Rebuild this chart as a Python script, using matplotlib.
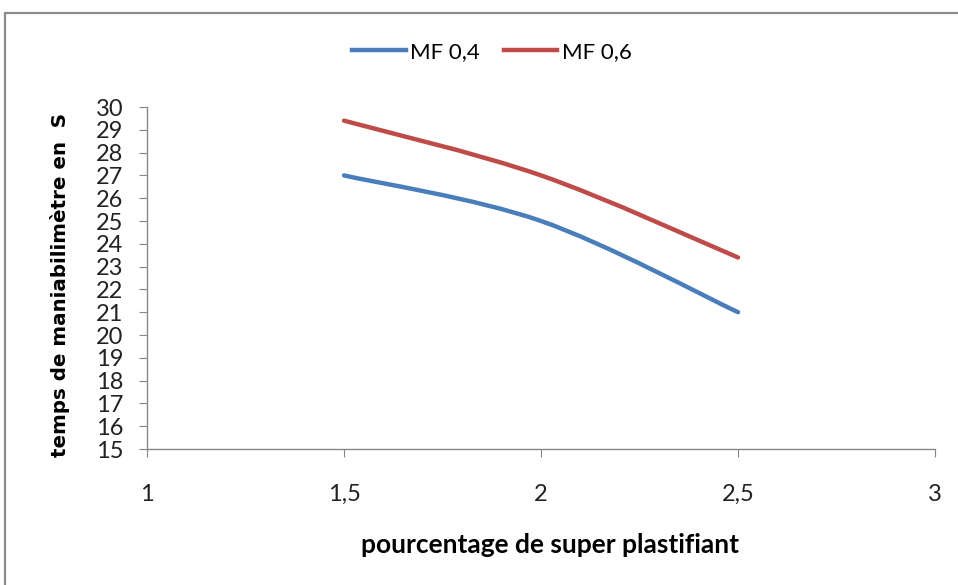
import matplotlib
matplotlib.use("Agg")
import matplotlib.pyplot as plt
from matplotlib.path import Path
from matplotlib.patches import PathPatch, Rectangle
from matplotlib.lines import Line2D

plt.rcParams['font.family'] = ['Lato', 'DejaVu Sans']

x_vals = [1.5, 2.0, 2.5]
mf04 = [27.0, 25.0, 21.0]
mf06 = [29.4, 27.0, 23.4]
series_names = ["MF 0,4", "MF 0,6"]
colors = ["#4A7EBB", "#BE4B48"]
xticks = [1, 1.5, 2, 2.5, 3]
xtick_labels = ["1", "1,5", "2", "2,5", "3"]
yticks = list(range(15, 31))

W, H = 958, 585
AX_L, AX_R, AX_T, AX_B = 147, 935, 107, 449
fig = plt.figure(figsize=(W / 100, H / 100), dpi=100)

# outer border
fig.patches.append(Rectangle((5 / W, -0.01), 1.0, 1 - 13 / H + 0.01, transform=fig.transFigure,
                             fill=False, edgecolor="#8c8c8c", linewidth=1.6))

ax = fig.add_axes([AX_L / W, 1 - AX_B / H, (AX_R - AX_L) / W, (AX_B - AX_T) / H])
ax.set_xlim(1, 3)
ax.set_ylim(15, 30)


def smooth_path(xs, ys):
    pts = list(zip(xs, ys))
    n = len(pts)
    verts = [pts[0]]
    codes = [Path.MOVETO]
    for i in range(n - 1):
        p0 = pts[i - 1] if i > 0 else pts[i]
        p1 = pts[i]
        p2 = pts[i + 1]
        p3 = pts[i + 2] if i + 2 < n else pts[i + 1]
        c1 = (p1[0] + (p2[0] - p0[0]) / 6, p1[1] + (p2[1] - p0[1]) / 6)
        c2 = (p2[0] - (p3[0] - p1[0]) / 6, p2[1] - (p3[1] - p1[1]) / 6)
        verts += [c1, c2, p2]
        codes += [Path.CURVE4] * 3
    return Path(verts, codes)


for ys, c in zip([mf04, mf06], colors):
    ax.add_patch(PathPatch(smooth_path(x_vals, ys), fill=False, edgecolor=c,
                           linewidth=3.2, capstyle='round'))

ax.set_xticks(xticks)
ax.set_xticklabels(xtick_labels)
ax.set_yticks(yticks)
for s in ["top", "right"]:
    ax.spines[s].set_visible(False)
for s in ["left", "bottom"]:
    ax.spines[s].set_color("#868686")
    ax.spines[s].set_linewidth(1.0)
ax.tick_params(axis='y', direction='out', length=6, color="#868686", labelsize=17, pad=11,
               labelcolor="#222222")
ax.tick_params(axis='x', direction='out', length=6, color="#868686", labelsize=17, pad=19,
               labelcolor="#222222")

ax.set_ylabel("temps de maniabilimètre en  S", fontsize=14.3, fontweight='bold',
              family=['DejaVu Sans'])
ax.yaxis.set_label_coords((60 - AX_L) / (AX_R - AX_L), (AX_B - 285) / (AX_B - AX_T))
ax.yaxis.label.set_va('center')

ax.set_xlabel("pourcentage de super plastifiant", fontsize=19, fontweight='bold')
ax.xaxis.set_label_coords((550 - AX_L) / (AX_R - AX_L), -(545 - AX_B) / (AX_B - AX_T))
ax.xaxis.label.set_va('center')

handles = [Line2D([], [], color=c, linewidth=3.2) for c in colors]
fig.legend(handles, series_names, loc='center', bbox_to_anchor=(492 / W, 1 - 52 / H),
           ncol=2, frameon=False, fontsize=16, handlelength=2.4, handletextpad=0.2,
           columnspacing=1.1)

fig.savefig("out.png", dpi=100)
